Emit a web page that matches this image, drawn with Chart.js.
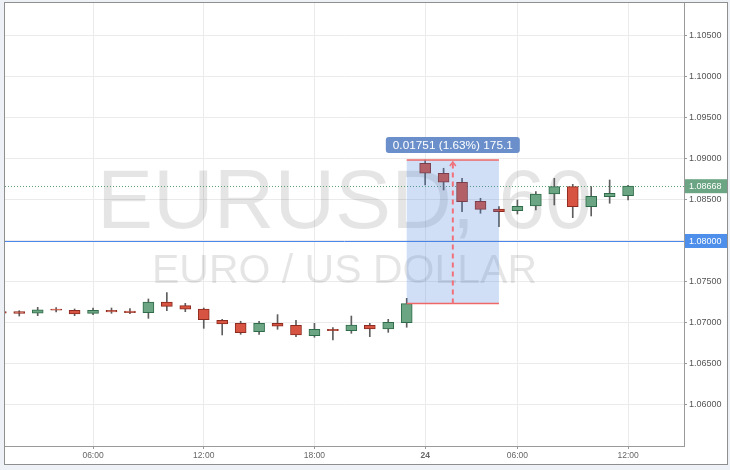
<!DOCTYPE html>
<html><head><meta charset="utf-8">
<script src="https://cdn.jsdelivr.net/npm/chart.js@4.4.1/dist/chart.umd.min.js"></script>
<style>
html,body{margin:0;padding:0;background:#eef2f6;width:730px;height:470px;overflow:hidden}
#wrap{position:absolute;left:4px;top:2px;width:722px;height:461px;border:1px solid #8f8f8f;background:#fff}
canvas{display:block}
</style></head><body>
<div id="wrap"><canvas id="c" width="722" height="461" style="width:722px;height:461px"></canvas></div>
<script>
// ---- data (hourly candles, index based) ----
const opens  = [1.07138,1.07138,1.07120,1.07171,1.07155,1.07118,1.07155,1.07146,1.07126,1.07256,1.07211,1.07171,1.07033,1.06996,1.06894,1.06996,1.06972,1.06846,1.06923,1.06906,1.06972,1.06927,1.07004,1.08948,1.08826,1.08716,1.08484,1.08390,1.08370,1.08427,1.08573,1.08663,1.08418,1.08541,1.08553];
const highs  = [1.07150,1.07150,1.07191,1.07187,1.07171,1.07183,1.07183,1.07175,1.07293,1.07370,1.07240,1.07183,1.07045,1.07021,1.07021,1.07102,1.07033,1.06996,1.06943,1.07085,1.06996,1.07045,1.07301,1.08988,1.08887,1.08764,1.08521,1.08418,1.08500,1.08601,1.08764,1.08691,1.08663,1.08744,1.08680];
const lows   = [1.07110,1.07085,1.07089,1.07134,1.07089,1.07102,1.07118,1.07114,1.07057,1.07150,1.07138,1.06935,1.06854,1.06862,1.06862,1.06923,1.06833,1.06826,1.06793,1.06874,1.06833,1.06886,1.06948,1.08683,1.08622,1.08357,1.08338,1.08175,1.08329,1.08378,1.08439,1.08284,1.08305,1.08460,1.08500];
const closes = [1.07120,1.07118,1.07159,1.07155,1.07110,1.07155,1.07134,1.07126,1.07256,1.07203,1.07167,1.07040,1.06988,1.06882,1.06996,1.06960,1.06854,1.06923,1.06906,1.06976,1.06927,1.07008,1.07237,1.08826,1.08716,1.08479,1.08386,1.08357,1.08423,1.08573,1.08663,1.08418,1.08545,1.08582,1.08668];
const tickIdx   = [5, 11, 17, 23, 28, 34];
const tickNames = ["06:00","12:00","18:00","24","06:00","12:00"];
const yTicks = [1.060,1.065,1.070,1.075,1.080,1.085,1.090,1.095,1.100,1.105];
const yMin = 1.05500, yMax = 1.10902;
const xMin = 0.228, xMax = 37.03;
const lastPrice = 1.08668;
const hLevel = 1.08000;
const measFromIdx = 22, measToIdx = 27;
const measStart = 1.07237, measEnd = 1.08988;
const watermarkTitle = "EURUSD, 60";
const watermarkSub = "EURO / US DOLLAR";

const UP='#6ba583', DOWN='#d75442', UPB='#2e6b48', DOWNB='#8b2a1e';
const FONT='"Liberation Sans", Arial, sans-serif';

const bodies = opens.map((o,i)=>({x:i, y:[o, closes[i]]}));
const wicks  = lows.map((l,i)=>({x:i, y:[l, highs[i]]}));
const fillC  = opens.map((o,i)=> closes[i]>=o ? UP : DOWN);
const bordC  = opens.map((o,i)=> closes[i]>=o ? UPB : DOWNB);

function rr(ctx,x,y,w,h,r){ctx.beginPath();ctx.moveTo(x+r,y);ctx.lineTo(x+w-r,y);ctx.quadraticCurveTo(x+w,y,x+w,y+r);ctx.lineTo(x+w,y+h-r);ctx.quadraticCurveTo(x+w,y+h,x+w-r,y+h);ctx.lineTo(x+r,y+h);ctx.quadraticCurveTo(x,y+h,x,y+h-r);ctx.lineTo(x,y+r);ctx.quadraticCurveTo(x,y,x+r,y);ctx.closePath();}

const overlay = {
  id:'overlay',
  beforeDatasetsDraw(chart){
    const {ctx, chartArea:a, scales:{x,y}} = chart;
    ctx.save();
    ctx.beginPath(); ctx.rect(a.left,a.top,a.right-a.left,a.bottom-a.top); ctx.clip();
    const cx=(a.left+a.right)/2;
    ctx.fillStyle='rgba(0,0,0,0.1)';
    ctx.textAlign='center'; ctx.textBaseline='alphabetic';
    ctx.font='84px '+FONT;
    ctx.fillText(watermarkTitle, cx, 225);
    ctx.font='41px '+FONT;
    ctx.fillText(watermarkSub, cx, 280);
    // horizontal level line
    const yb=Math.round(y.getPixelForValue(hLevel))+0.5;
    ctx.strokeStyle='#4a86ee'; ctx.lineWidth=1;
    ctx.beginPath(); ctx.moveTo(a.left,yb); ctx.lineTo(a.right,yb); ctx.stroke();
    // last price dotted line
    const yg=Math.round(y.getPixelForValue(lastPrice))+0.5;
    ctx.strokeStyle='#5aa072'; ctx.setLineDash([1,2]);
    ctx.beginPath(); ctx.moveTo(a.left,yg); ctx.lineTo(a.right,yg); ctx.stroke();
    ctx.restore();
  },
  afterDatasetsDraw(chart){
    const {ctx, chartArea:a, scales:{x,y}} = chart;
    ctx.save();
    const x1=x.getPixelForValue(measFromIdx), x2=x.getPixelForValue(measToIdx);
    const yT=y.getPixelForValue(measEnd), yB=y.getPixelForValue(measStart);
    ctx.fillStyle='rgba(67,127,215,0.25)';
    ctx.fillRect(x1,yT,x2-x1,yB-yT);
    ctx.strokeStyle='#f06767'; ctx.lineWidth=1.6;
    ctx.beginPath(); ctx.moveTo(x1,yT); ctx.lineTo(x2,yT); ctx.moveTo(x1,yB); ctx.lineTo(x2,yB); ctx.stroke();
    const mx=(x1+x2)/2;
    ctx.strokeStyle='#f2707a'; ctx.lineWidth=2; ctx.setLineDash([5,4]);
    ctx.beginPath(); ctx.moveTo(mx,yB); ctx.lineTo(mx,yT+2); ctx.stroke();
    ctx.setLineDash([]); ctx.lineWidth=1.5;
    ctx.beginPath(); ctx.moveTo(mx-3,yT+6); ctx.lineTo(mx,yT+2); ctx.lineTo(mx+3,yT+6); ctx.stroke();
    // label
    const diff=measEnd-measStart;
    const txt=diff.toFixed(5)+' ('+(diff/measStart*100).toFixed(2)+'%) '+(diff*10000).toFixed(1);
    ctx.font='11.8px '+FONT;
    const w=134, h=16;
    ctx.fillStyle='#6a8fca';
    rr(ctx,mx-w/2,yT-23,w,h,3); ctx.fill();
    ctx.fillStyle='#fff'; ctx.textAlign='center'; ctx.textBaseline='middle';
    ctx.fillText(txt,mx,yT-23+h/2+0.5);
    ctx.restore();
  },
  afterDraw(chart){
    const {ctx, chartArea:a, scales:{y}} = chart;
    ctx.save();
    ctx.font='9px '+FONT; ctx.textBaseline='middle'; ctx.textAlign='left';
    const lab=(v,col)=>{
      const yy=y.getPixelForValue(v);
      ctx.fillStyle=col; ctx.fillRect(a.right+1,yy-7,chart.width-a.right-1,14);
      ctx.fillStyle='#fff'; ctx.fillText(v.toFixed(5),a.right+5,yy+0.5);
    };
    lab(lastPrice,'#6ba583');
    lab(hLevel,'#4d8fea');
    ctx.restore();
  }
};

new Chart(document.getElementById('c'),{
  type:'bar',
  data:{datasets:[
    {data:bodies, backgroundColor:fillC, borderColor:bordC, borderWidth:1, borderSkipped:false, barThickness:11, grouped:false, order:1},
    {data:wicks, backgroundColor:'#5e5e5e', borderWidth:0, barThickness:1, grouped:false, order:2}
  ]},
  options:{
    responsive:false, animation:false, devicePixelRatio:1,
    layout:{padding:0},
    plugins:{legend:{display:false}, tooltip:{enabled:false}},
    scales:{
      x:{type:'linear', min:xMin, max:xMax, offset:false,
         grid:{offset:false, color:'#ebebeb', tickColor:'#9a9a9a', tickLength:3},
         border:{color:'#9a9a9a'},
         afterBuildTicks:s=>{s.ticks=tickIdx.map(v=>({value:v}));},
         afterFit:s=>{s.height=18; s.paddingLeft=0; s.paddingRight=0;},
         ticks:{autoSkip:false, maxRotation:0, padding:2, color:'#666',
           callback:(v,i)=>tickNames[i],
           font:c=>({size:8.5, family:FONT, weight: tickNames[c.index]==='24'?'bold':'normal'})}
      },
      y:{type:'linear', position:'right', min:yMin, max:yMax,
         grid:{color:'#ebebeb', tickColor:'#9a9a9a', tickLength:3},
         border:{color:'#9a9a9a'},
         afterBuildTicks:s=>{s.ticks=yTicks.map(v=>({value:v}));},
         afterFit:s=>{s.width=43; s.paddingTop=0; s.paddingBottom=0;},
         ticks:{padding:2, color:'#555', font:{size:9, family:FONT}, callback:v=>Number(v).toFixed(5)}
      }
    }
  },
  plugins:[overlay]
});
</script>
</body></html>
